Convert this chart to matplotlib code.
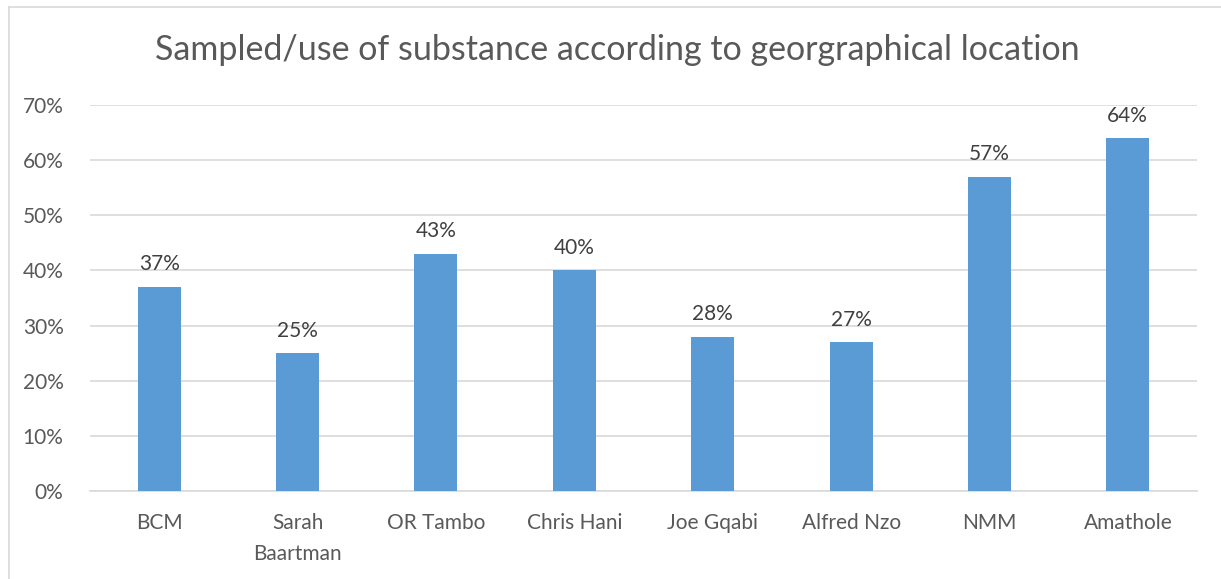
import matplotlib.pyplot as plt
from matplotlib.lines import Line2D

locations = ["BCM", "Sarah\nBaartman", "OR Tambo", "Chris Hani", "Joe Gqabi",
             "Alfred Nzo", "NMM", "Amathole"]
percent_used = [37, 25, 43, 40, 28, 27, 57, 64]
y_ticks = [0, 10, 20, 30, 40, 50, 60, 70]

bar_color = "#5B9BD5"
text_color = "#595959"
grid_color = "#D9D9D9"

plt.rcParams["font.family"] = ["Lato", "DejaVu Sans"]

fig = plt.figure(figsize=(12.21, 5.79), dpi=100)
ax = fig.add_axes([90 / 1221, 1 - 491 / 579, 1107 / 1221, 386 / 579])

x = range(len(locations))
bars = ax.bar(x, percent_used, width=0.31, color=bar_color, zorder=3)
for rect, v in zip(bars, percent_used):
    ax.annotate(f"{v}%", (rect.get_x() + rect.get_width() / 2, v),
                xytext=(0, 9), textcoords="offset points",
                ha="center", va="bottom", fontsize=15, color="#404040")

ax.set_xlim(-0.5, len(locations) - 0.5)
ax.set_ylim(0, 70)
ax.set_yticks(y_ticks)
ax.set_yticklabels([f"{t}%" for t in y_ticks])
ax.set_xticks(list(x))
ax.set_xticklabels(locations, linespacing=1.65)
ax.tick_params(axis="both", length=0, labelsize=15, labelcolor=text_color)
ax.tick_params(axis="y", pad=19)
ax.tick_params(axis="x", pad=16)
ax.grid(axis="y", color=grid_color, linewidth=1.2, zorder=0)
for s in ["top", "right", "left"]:
    ax.spines[s].set_visible(False)
ax.spines["bottom"].set_color(grid_color)
ax.spines["bottom"].set_linewidth(1.2)

fig.text(617 / 1221, 1 - 50 / 579, "Sampled/use of substance according to georgraphical location",
         ha="center", va="center", fontsize=24.5, color=text_color)

# chart area frame (left and top edges)
fig.add_artist(Line2D([8.5 / 1221, 8.5 / 1221], [0, 1 - 6.5 / 579],
                      transform=fig.transFigure, color=grid_color, linewidth=1.2))
fig.add_artist(Line2D([8.5 / 1221, 1], [1 - 6.5 / 579, 1 - 6.5 / 579],
                      transform=fig.transFigure, color=grid_color, linewidth=1.2))

fig.savefig("out.png", dpi=100)
